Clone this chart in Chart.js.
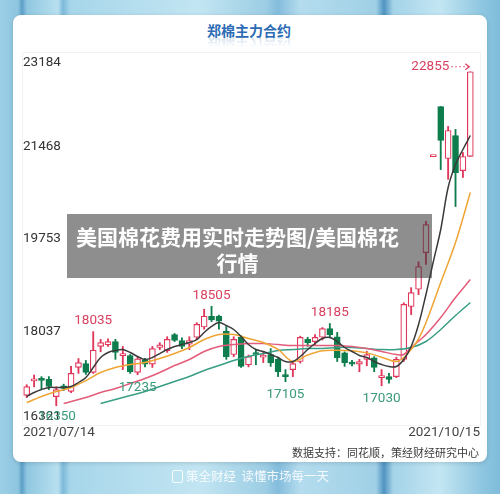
<!DOCTYPE html>
<html lang="zh">
<head>
    <meta charset="UTF-8">
    <title>郑棉主力合约</title>
    <script src="https://cdn.jsdelivr.net/npm/chart.js"></script>
    <style>
        body {
            margin: 0;
            width: 500px;
            height: 494px;
            overflow: hidden;
            position: relative;
            font-family: "Noto Sans CJK SC", Roboto, sans-serif;
            background: linear-gradient(90deg, #9bcfe6 0px, #8ec5df 18px, #5d9fc8 22px, #8fc7e0 27px, #b8e0ef 58px,
                #7cb9d9 63px, #a7d6ea 70px, #c2e5f2 200px, #9ccde4 266px, #84bcdc 278px, #b4dcee 300px,
                #a0d0e6 376px, #4f93c1 384px, #a4d3e8 393px, #c3e6f3 440px, #8ec6e0 482px, #7fbcdb 500px);
        }

        .card {
            position: absolute;
            left: 13px;
            top: 15px;
            width: 474px;
            height: 447px;
            background: #fff;
            border-radius: 8px;
            box-shadow: 0 1px 4px rgba(0, 0, 0, 0.15);
        }

        .title, .title-mirror {
            position: absolute;
            left: 0;
            width: 498px;
            text-align: center;
            font-size: 14px;
            font-weight: 700;
            color: #2d6cb5;
            line-height: 16px;
        }

        .title { top: 22px; }

        .title-mirror {
            top: 36px;
            transform: scaleY(-1);
            opacity: 0.25;
            -webkit-mask-image: linear-gradient(to top, #000 0%, transparent 70%);
        }

        .panel {
            position: absolute;
            left: 22px;
            top: 52px;
            width: 457px;
            height: 372px;
            border: 1px solid #f3f3f3;
        }

        #chart {
            position: absolute;
            left: 0;
            top: 0;
        }

        .source {
            position: absolute;
            right: 21px;
            top: 444px;
            font-size: 11px;
            line-height: 16px;
            color: #3a3a3a;
        }

        .footer {
            position: absolute;
            left: 172px;
            top: 468px;
            font-size: 12.5px;
            line-height: 16px;
            color: rgba(255, 255, 255, 0.88);
        }

        .footer .icon {
            display: inline-block;
            width: 9px;
            height: 11px;
            border: 1.5px solid rgba(255, 255, 255, 0.88);
            border-radius: 2px;
            vertical-align: -2px;
            margin-right: 3px;
        }

        .band {
            position: absolute;
            left: 67px;
            top: 214px;
            width: 341px;
            height: 55px;
            padding: 9px 24px 0 0;
            background: rgba(60, 60, 60, 0.58);
            color: #fff;
            font-size: 21px;
            font-weight: 700;
            line-height: 26px;
            text-align: center;
        }
    </style>
</head>
<body>
    <div class="card"></div>
    <div class="title">郑棉主力合约</div>
    <div class="title-mirror">郑棉主力合约</div>
    <div class="panel"></div>
    <canvas id="chart" width="500" height="494"></canvas>
    <div class="source">数据支持：同花顺，策经财经研究中心</div>
    <div class="footer"><span class="icon"></span>策全财经&nbsp;&nbsp;读懂市场每一天</div>
    <div class="band">美国棉花费用实时走势图/美国棉花<br>行情</div>

    <script>
        const dates = [
            '2021/07/14', '2021/07/15', '2021/07/16', '2021/07/19', '2021/07/20', '2021/07/21', '2021/07/22', '2021/07/23', '2021/07/26', '2021/07/27',
            '2021/07/28', '2021/07/29', '2021/07/30', '2021/08/02', '2021/08/03', '2021/08/04', '2021/08/05', '2021/08/06', '2021/08/09', '2021/08/10',
            '2021/08/11', '2021/08/12', '2021/08/13', '2021/08/16', '2021/08/17', '2021/08/18', '2021/08/19', '2021/08/20', '2021/08/23', '2021/08/24',
            '2021/08/25', '2021/08/26', '2021/08/27', '2021/08/30', '2021/08/31', '2021/09/01', '2021/09/02', '2021/09/03', '2021/09/06', '2021/09/07',
            '2021/09/08', '2021/09/09', '2021/09/10', '2021/09/13', '2021/09/14', '2021/09/15', '2021/09/16', '2021/09/17', '2021/09/22', '2021/09/23',
            '2021/09/24', '2021/09/27', '2021/09/28', '2021/09/29', '2021/09/30', '2021/10/08', '2021/10/11', '2021/10/12', '2021/10/13', '2021/10/14',
            '2021/10/15'
        ];

        const opens = [
            16850, 17120, 17150, 17150, 16830, 17030, 16925, 17370, 17440, 17280,
            17760, 17790, 17850, 17590, 17590, 17280, 17500, 17430, 17740, 17680,
            17980, 17870, 17800, 17930, 18120, 18320, 18320, 18040, 17610, 17930,
            17420, 17630, 17560, 17610, 17520, 17220, 17330, 17480, 17890, 17850,
            17930, 18090, 17940, 17640, 17470, 17430, 17520, 17550, 17180, 17200,
            17200, 17520, 18500, 18820, 19500, 21280, 22210, 21245, 21670, 21020,
            21283
        ];
        const highs = [
            17050, 17230, 17200, 17200, 17010, 17060, 17390, 17535, 17500, 18035,
            17890, 17900, 17890, 17760, 17610, 17570, 17540, 17760, 17830, 17940,
            18000, 17920, 17940, 18200, 18450, 18505, 18340, 18130, 17940, 17960,
            17600, 17700, 17650, 17720, 17560, 17330, 17480, 17950, 17930, 17980,
            18110, 18185, 18020, 17660, 17500, 17520, 17670, 17570, 17330, 17260,
            17560, 18570, 18850, 19330, 20080, 21280, 22210, 21840, 21785, 21357,
            22855
        ];
        const lows = [
            16810, 17010, 16960, 16960, 16660, 16940, 16900, 17260, 17240, 17260,
            17660, 17760, 17520, 17330, 17260, 17235, 17380, 17370, 17700, 17650,
            17850, 17720, 17700, 17890, 18080, 18220, 18080, 17520, 17570, 17370,
            17380, 17420, 17460, 17390, 17200, 17105, 17200, 17450, 17760, 17780,
            17880, 17930, 17480, 17390, 17400, 17290, 17400, 17290, 17030, 17080,
            17180, 17480, 18350, 18720, 19280, 21280, 21040, 20860, 20355, 20893,
            21283
        ];
        const closes = [
            17015, 17150, 17130, 17020, 16960, 16980, 17260, 17460, 17280, 17690,
            17830, 17850, 17650, 17610, 17290, 17530, 17430, 17720, 17790, 17890,
            17870, 17760, 17870, 18170, 18320, 18250, 18230, 17570, 17890, 17390,
            17570, 17610, 17580, 17460, 17290, 17200, 17440, 17930, 17830, 17930,
            18090, 17980, 17550, 17460, 17430, 17480, 17610, 17370, 17200, 17150,
            17520, 18540, 18760, 19240, 20020, 21280, 21580, 21765, 20985, 21283,
            22855
        ];

        // moving average lines (null = not read)
        const ma5 = [
            16831, 16905, 16961, 16998, 16998, 16998, 17016, 17090, 17183, 17369,
            17554, 17647, 17684, 17703, 17647, 17573, 17517, 17554, 17628, 17703,
            17758, 17795, 17832, 17888, 18018, 18130, 18204, 18148, 18074, 17944,
            17795, 17703, 17666, 17610, 17554, 17480, 17480, 17573, 17703, 17814,
            17907, 17925, 17851, 17740, 17666, 17591, 17554, 17480, 17424, 17387,
            17387, 17517, 17758, 18166, 18723, 19335, 19929, 20708, 21134, 21413,
            21672
        ];
        const ma10 = [
            16719, null, 16831, null, 16923, null, 16998, null, 17127, null,
            17276, null, 17369, null, 17424, null, 17462, null, 17536, null,
            17628, null, 17740, null, 17888, null, 17981, null, 17981, null,
            17907, null, 17832, null, 17703, null, 17480, null, 17600, null,
            17680, null, 17690, null, 17680, null, 17640, null, 17560, null,
            17480, 17554, 17703, 17900, 18200, null, 18945, null, 19687, null,
            20615
        ];
        const ma20 = [
            null, null, null, null, null, 16701, null, null, 16812, null,
            16905, null, 16979, null, 17072, null, 17164, null, 17276, null,
            17405, null, 17517, null, 17666, null, 17758, null, 17795, null,
            17814, null, 17814, null, 17795, null, 17777, null, 17777, null,
            17777, null, 17777, null, 17758, null, 17721, null, 17666, null,
            17610, 17610, 17740, null, 17981, null, 18296, null, 18667, null,
            19001
        ];
        const ma30 = [
            null, null, null, null, null, null, null, null, null, null,
            16701, null, 16775, null, 16849, null, 16923, null, 17016, null,
            17109, null, 17202, null, 17313, null, 17405, null, 17498, null,
            17573, null, 17628, null, 17684, null, 17703, null, 17721, null,
            17721, null, 17740, null, 17740, null, 17721, null, 17703, null,
            17703, null, 17740, null, 17851, null, 18074, null, 18333, null,
            18574
        ];

        const yTicks = [16321, 18037, 19753, 21468, 23184];
        const highMarks = [9, 25, 41];
        const lowMarks = [15, 35, 48];

        const RED = '#e0365a';
        const GREEN = '#0e7d4d';

        const isUp = dates.map((d, i) => closes[i] >= opens[i]);

        const labelPlugin = {
            id: 'labels',
            afterDatasetsDraw(chart) {
                const { ctx, chartArea } = chart;
                const x = chart.scales.x;
                const y = chart.scales.y;
                ctx.save();
                ctx.font = '13.5px Roboto';

                // price axis labels inside the plot
                ctx.fillStyle = '#333';
                ctx.textAlign = 'left';
                yTicks.forEach(v => {
                    const py = y.getPixelForValue(v);
                    if (v === y.max) {
                        ctx.textBaseline = 'top';
                        ctx.fillText(String(v), chartArea.left, py + 2);
                    } else if (v === y.min) {
                        ctx.textBaseline = 'bottom';
                        ctx.fillText(String(v), chartArea.left, py - 1);
                    } else {
                        ctx.textBaseline = 'middle';
                        ctx.fillText(String(v), chartArea.left, py);
                    }
                });

                // local highs
                ctx.fillStyle = '#d8405f';
                ctx.textAlign = 'center';
                ctx.textBaseline = 'bottom';
                highMarks.forEach(i => {
                    ctx.fillText(String(highs[i]), x.getPixelForValue(i), y.getPixelForValue(highs[i]) - 4);
                });

                // local lows
                ctx.fillStyle = '#3a9a7a';
                ctx.textBaseline = 'top';
                lowMarks.forEach(i => {
                    ctx.fillText(String(lows[i]), x.getPixelForValue(i), y.getPixelForValue(lows[i]) + 6);
                });
                ctx.textAlign = 'left';
                ctx.textBaseline = 'bottom';
                ctx.fillText('16350', chartArea.left + 15, chartArea.bottom - 1);

                // last price marker
                const last = closes.length - 1;
                const lx = x.getPixelForValue(last);
                const ly = y.getPixelForValue(highs[last]) - 5;
                ctx.fillStyle = '#d8405f';
                ctx.textAlign = 'right';
                ctx.textBaseline = 'middle';
                ctx.fillText(String(closes[last]), lx - 21, ly);
                ctx.strokeStyle = '#d8405f';
                ctx.lineWidth = 1.2;
                ctx.setLineDash([1.5, 2.5]);
                ctx.beginPath();
                ctx.moveTo(lx - 19, ly);
                ctx.lineTo(lx - 2, ly);
                ctx.stroke();
                ctx.setLineDash([]);
                ctx.beginPath();
                ctx.moveTo(lx - 5, ly - 3);
                ctx.lineTo(lx - 1, ly);
                ctx.lineTo(lx - 5, ly + 3);
                ctx.stroke();

                // first and last date
                ctx.fillStyle = '#444';
                ctx.textBaseline = 'middle';
                ctx.textAlign = 'left';
                ctx.fillText(dates[0], chartArea.left, 433);
                ctx.textAlign = 'right';
                ctx.fillText(dates[last], chartArea.right + 6, 433);
                ctx.restore();
            }
        };

        const lineSet = (data, color) => ({
            type: 'line',
            data: data,
            borderColor: color,
            borderWidth: 1.5,
            pointRadius: 0,
            tension: 0.35,
            spanGaps: true,
            order: 0
        });

        new Chart(document.getElementById('chart'), {
            type: 'bar',
            data: {
                labels: dates,
                datasets: [
                    lineSet(ma5, '#3a3a3a'),
                    lineSet(ma10, '#eea534'),
                    lineSet(ma20, '#e35d7a'),
                    lineSet(ma30, '#3a9e86'),
                    {
                        // candle bodies
                        data: opens.map((o, i) => [o, closes[i]]),
                        backgroundColor: isUp.map(u => u ? '#fff' : GREEN),
                        borderColor: isUp.map(u => u ? RED : GREEN),
                        borderWidth: 1.2,
                        borderSkipped: false,
                        barThickness: 6,
                        minBarLength: 2,
                        grouped: false,
                        order: 1
                    },
                    {
                        // wicks
                        data: lows.map((l, i) => [l, highs[i]]),
                        backgroundColor: isUp.map(u => u ? RED : GREEN),
                        borderWidth: 0,
                        barThickness: 1.2,
                        grouped: false,
                        order: 2
                    }
                ]
            },
            options: {
                responsive: false,
                animation: false,
                devicePixelRatio: 1,
                layout: {
                    padding: { left: 23, right: 26, top: 54, bottom: 70 }
                },
                scales: {
                    x: { display: false, offset: true },
                    y: { display: false, min: yTicks[0], max: yTicks[yTicks.length - 1] }
                },
                plugins: {
                    legend: { display: false },
                    tooltip: { enabled: false }
                }
            },
            plugins: [labelPlugin]
        });
    </script>
</body>
</html>
